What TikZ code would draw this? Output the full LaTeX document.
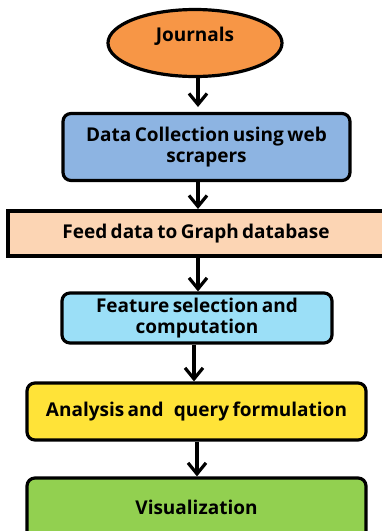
\documentclass[tikz,border=0pt]{standalone}
\usepackage{fontspec}
\setmainfont{Open Sans}
\usetikzlibrary{arrows.meta,shapes.geometric}
\definecolor{corange}{HTML}{F79646}
\definecolor{cblue}{HTML}{8DB4E2}
\definecolor{cpeach}{HTML}{FCD5B4}
\definecolor{ccyan}{HTML}{9BDFF7}
\definecolor{cyellow}{HTML}{FFE338}
\definecolor{cgreen}{HTML}{92D050}
\newcommand{\boxfont}{\bfseries\fontsize{19}{21}\selectfont\spaceskip=0.18em plus 0.05em minus 0.05em}
\tikzset{
  box/.style={draw=black, line width=3.2pt, rounded corners=8pt, align=center, font=\boxfont, inner sep=0pt},
  sqbox/.style={box, rounded corners=0pt},
  conn/.style={line width=3.4pt, -{Straight Barb[length=11pt,width=18pt,line width=3.2pt]}},
}
\begin{document}
\begin{tikzpicture}[x=1pt,y=-1pt]
\useasboundingbox (0,0) rectangle (382,531);
\clip (0,0) rectangle (382,531);
\node[box, ellipse, fill=corange, minimum width=174pt, minimum height=67pt] (j) at (195,43) {};
\node[font=\boxfont] (jt) at (195,36) {Journals};
\node[box, fill=cblue, minimum width=287pt, minimum height=67pt] (dc) at (206.5,147) {Data Collection using web\\scrapers};
\node[sqbox, fill=cpeach, minimum width=390pt, minimum height=45pt] (fd) at (203,233.5) {\hspace*{-14pt}Feed data to Graph database};
\node[box, fill=ccyan, minimum width=270pt, minimum height=50pt] (fs) at (197,318) {Feature selection and\\computation};
\node[box, fill=cyellow, minimum width=339pt, minimum height=57pt] (an) at (196.5,411.5) {Analysis and\ \ \ query formulation};
\node[box, fill=cgreen, minimum width=339pt, minimum height=70pt] (vi) at (196.5,513) {};
\node[font=\boxfont] (vt) at (196.5,507) {Visualization};
\draw[conn] (j.south -| 198,0) -- (198,107);
\draw[conn] (dc.south -| 198,0) -- (198,209);
\draw[conn] (198,258) -- (fs.north -| 198,0);
\draw[conn] (fs.south -| 194,0) -- (an.north -| 194,0);
\draw[conn] (an.south -| 197,0) -- (vi.north -| 197,0);
\end{tikzpicture}
\end{document}
